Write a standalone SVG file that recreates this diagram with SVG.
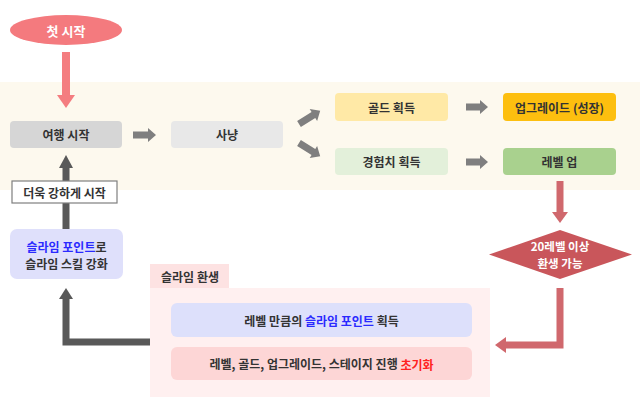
<svg xmlns="http://www.w3.org/2000/svg" width="640" height="402" viewBox="0 0 640 402">
<style>
text{font-family:"Noto Sans CJK KR","Noto Sans",sans-serif;font-size:12px;font-weight:700;fill:#333;text-anchor:middle;dominant-baseline:central}
.w{fill:#fff}
.b{fill:#2a2aff}
.r{fill:#ff2222}
.ga{fill:#7f7f7f}
.da{fill:#595959}
</style>
<rect x="0" y="82" width="640" height="108" fill="#fdf9ee"/>
<g id="rebirth-area">
<rect x="150" y="264" width="79" height="25" fill="#fde2e2"/>
<rect x="150" y="288" width="340" height="109" fill="#fff0f0"/>
<text x="190" y="276">슬라임 환생</text>
</g>
<g id="connectors">
<path d="M66,52 V96" stroke="#f47d80" stroke-width="8" fill="none"/>
<polygon points="66,108 57,95 75,95" fill="#f47d80"/>
<polygon class="ga" points="133,131.5 148,131.5 148,128 156,135 148,142 148,138.5 133,138.5"/>
<polygon class="ga" points="0,-3.5 17,-3.5 17,-7 25,0 17,7 17,3.5 0,3.5" transform="translate(299,124) rotate(-32)"/>
<polygon class="ga" points="0,-3.5 17,-3.5 17,-7 25,0 17,7 17,3.5 0,3.5" transform="translate(299,143) rotate(32)"/>
<polygon class="ga" points="466,103.5 480,103.5 480,100 488,107 480,114 480,110.5 466,110.5"/>
<polygon class="ga" points="466,158.5 480,158.5 480,155 488,162 480,169 480,165.5 466,165.5"/>
<path d="M560,181 V213" stroke="#d0686d" stroke-width="7" fill="none"/>
<polygon points="560,223 552,212 568,212" fill="#d0686d"/>
<path d="M560,288 V345 H504" stroke="#d0686d" stroke-width="7" fill="none"/>
<polygon points="495,345 506,337 506,353" fill="#d0686d"/>
<path d="M150,342 H66 V298" stroke="#595959" stroke-width="7" fill="none"/>
<polygon class="da" points="66,288 59,299 73,299"/>
<path d="M66,229 V167" stroke="#595959" stroke-width="7" fill="none"/>
<polygon class="da" points="66,155 59,168 73,168"/>
</g>
<g id="label-stronger">
<rect x="12" y="181" width="105" height="22" fill="#fff" stroke="#7f7f7f" stroke-width="1.2"/>
<text x="64.5" y="192">더욱 강하게 시작</text>
</g>
<g id="first-start">
<ellipse cx="66" cy="30" rx="56" ry="15" fill="#f47a7e"/>
<text class="w" x="66" y="30" style="font-size:13px">첫 시작</text>
</g>
<g id="travel-start">
<rect x="10" y="121" width="112" height="27" rx="4" fill="#d6d6d6"/>
<text x="66" y="134.5">여행 시작</text>
</g>
<g id="hunt">
<rect x="171" y="121" width="112" height="27" rx="4" fill="#e8e8e8"/>
<text x="227" y="134.5">사냥</text>
</g>
<g id="gold">
<rect x="335" y="93" width="113" height="28" rx="4" fill="#ffe9a6"/>
<text x="391.5" y="107">골드 획득</text>
</g>
<g id="upgrade">
<rect x="503" y="93" width="113" height="28" rx="4" fill="#fdbf0f"/>
<text x="559.5" y="107">업그레이드 (성장)</text>
</g>
<g id="exp">
<rect x="335" y="148" width="113" height="27" rx="4" fill="#e3f0da"/>
<text x="391.5" y="161.5">경험치 획득</text>
</g>
<g id="levelup">
<rect x="503" y="148" width="113" height="27" rx="4" fill="#a9d18e"/>
<text x="559.5" y="161.5">레벨 업</text>
</g>
<g id="rebirth-check">
<polygon points="560,230 632,254.5 560,279 489,254.5" fill="#c9565b"/>
<text class="w" x="560" y="246" style="font-size:11.5px">20레벨 이상</text>
<text class="w" x="560" y="263" style="font-size:11.5px">환생 가능</text>
</g>
<g id="slime-skill">
<rect x="10" y="229" width="113" height="50" rx="7" fill="#dfe0fb"/>
<text x="66.5" y="246"><tspan class="b">슬라임 포인트</tspan>로</text>
<text x="66.5" y="263">슬라임 스킬 강화</text>
</g>
<g id="gain-points">
<rect x="171" y="303" width="301" height="34" rx="6" fill="#dde0fb"/>
<text x="321.5" y="320">레벨 만큼의 <tspan class="b">슬라임 포인트</tspan> 획득</text>
</g>
<g id="reset">
<rect x="171" y="347" width="301" height="33" rx="6" fill="#fdd6d6"/>
<text x="321.5" y="363.5">레벨, 골드, 업그레이드, 스테이지 진행 <tspan class="r">초기화</tspan></text>
</g>
</svg>
